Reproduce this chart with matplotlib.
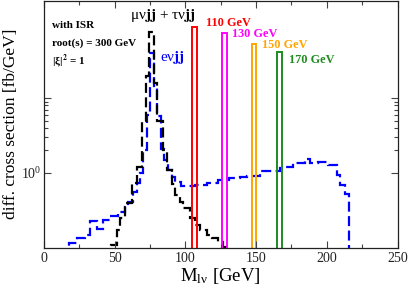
import matplotlib
matplotlib.use("Agg")
import matplotlib.pyplot as plt
from matplotlib.ticker import FixedLocator, NullFormatter, FixedFormatter

plt.rcParams["mathtext.fontset"] = "stix"

# e nu jj (blue dashed) histogram
blue_edges = [17.5, 23.0, 29.0, 32.6, 37.3, 42.0, 46.7, 52.6, 57.3, 59.7, 63.2, 66.0,
              67.9, 70.3, 72.5, 75.0, 77.8, 80.0, 82.5, 85.0, 87.5, 90.4, 92.7, 97.0,
              107.0, 115.0, 123.0, 130.6, 138.7, 143.4, 152.9, 167.0, 169.4, 176.4,
              184.7, 188.3, 194.1, 200.5, 207.1, 209.5, 213.0, 216.0]
blue_vals = [0.116, 0.133, 0.15, 0.23, 0.18, 0.235, 0.266, 0.30, 0.347, 0.41, 0.56,
             0.73, 0.99, 2.0, 6.0, 40.0, 13.5, 5.7, 2.1, 1.5, 1.1, 0.89, 0.76, 0.67,
             0.69, 0.74, 0.81, 0.86, 0.87, 0.92, 1.05, 1.15, 1.21, 1.35, 1.53, 1.37,
             1.42, 1.28, 0.94, 0.69, 0.53]

# mu nu jj + tau nu jj (black dashed) histogram
black_edges = [47.5, 51.4, 53.7, 57.3, 62.0, 65.5, 69.1, 72.2, 74.5, 77.8, 79.6, 84.4,
               86.8, 90.4, 92.7, 96.2, 98.6, 103.3, 106.9, 110.4, 115.1, 118.7, 123.4,
               126.9, 131.6]
black_vals = [0.109, 0.172, 0.247, 0.40, 0.73, 1.2, 5.0, 20.0, 78.0, 16.0, 5.0, 2.0,
              1.1, 0.72, 0.5, 0.41, 0.34, 0.25, 0.2, 0.17, 0.15, 0.135, 0.12, 0.103]

# signal peaks
sig_labels = ["110 GeV", "130 GeV", "150 GeV", "170 GeV"]
sig_lo = [104.7, 126.0, 147.0, 164.9]
sig_hi = [108.5, 129.2, 150.0, 168.2]
sig_height = [91.0, 74.0, 53.0, 41.0]
sig_colors = ["#ff0000", "#ff00ff", "#ffa500", "#1e8c1e"]

W, H = 409, 288
fig = plt.figure(figsize=(W / 100, H / 100), dpi=100)
ax = fig.add_axes([44 / W, 1 - 247.7 / H, (397.5 - 44) / W, (247.7 - 1) / H])

serif = ["Liberation Serif", "DejaVu Serif"]

ax.stairs(blue_vals, blue_edges, baseline=1e-4, color="#0000ff", lw=1.6,
          linestyle=(0, (4.5, 2.0)))
ax.stairs(black_vals, black_edges, baseline=1e-4, color="black", lw=1.6,
          linestyle=(0, (4.5, 2.0)))
for lo, hi, h, c in zip(sig_lo, sig_hi, sig_height, sig_colors):
    ax.stairs([h], [lo, hi], baseline=1e-4, color=c, lw=1.4)

ax.set_yscale("log")
ax.set_xlim(0, 250)
ax.set_ylim(0.1, 200)

ax.xaxis.set_major_locator(FixedLocator([0, 50, 100, 150, 200, 250]))
ax.xaxis.set_minor_locator(FixedLocator([25, 75, 125, 175, 225]))
ax.yaxis.set_major_locator(FixedLocator([1, 10]))
ax.yaxis.set_major_formatter(FixedFormatter([r"$\mathregular{10^0}$", ""]))
ax.yaxis.set_minor_locator(FixedLocator([2, 3, 4, 5, 6, 7, 8, 9]))
ax.yaxis.set_minor_formatter(NullFormatter())
ax.tick_params(which="both", direction="in", top=True, right=True, colors="#444444",
               labelcolor="#222222")
ax.tick_params(which="major", length=5, width=0.8, labelsize=10, pad=3)
ax.tick_params(axis="y", which="major", pad=2)
ax.tick_params(which="minor", length=3, width=0.8)
for lab in ax.get_xticklabels() + ax.get_yticklabels():
    lab.set_fontfamily(serif)
for s in ax.spines.values():
    s.set_linewidth(0.9)
    s.set_color("#222222")

ax.set_xlabel(r"M$_{\mathregular{l\nu}}$ [GeV]", fontsize=13.5, family=serif, labelpad=1)

def ftext(x, y, s, ha="left", **kw):
    fig.text(x / W, 1 - y / H, s, va="center", ha=ha, family=serif, **kw)

ftext(11, 124, "diff. cross section [fb/GeV]", ha="center", fontsize=12.5, rotation=90)
ftext(52, 26, "with ISR", fontsize=8, weight="bold")
ftext(52, 43, "root(s) = 300 GeV", fontsize=8, weight="bold")
ftext(52, 61, r"|ξ|$^{\mathbf{2}}$ = 1", fontsize=8, weight="bold")
ftext(130, 15, r"μν$\mathbf{jj}$ + τν$\mathbf{jj}$", fontsize=11)
ftext(160, 57, r"eν$\mathbf{jj}$", fontsize=11, color="#0000ff")
lab_pos = [(206, 23), (232, 34), (262, 45), (289, 60)]
for (x, y), t, c in zip(lab_pos, sig_labels, sig_colors):
    ftext(x, y, t, fontsize=8.8, weight="bold", color=c)

fig.savefig("out.png", dpi=100)
